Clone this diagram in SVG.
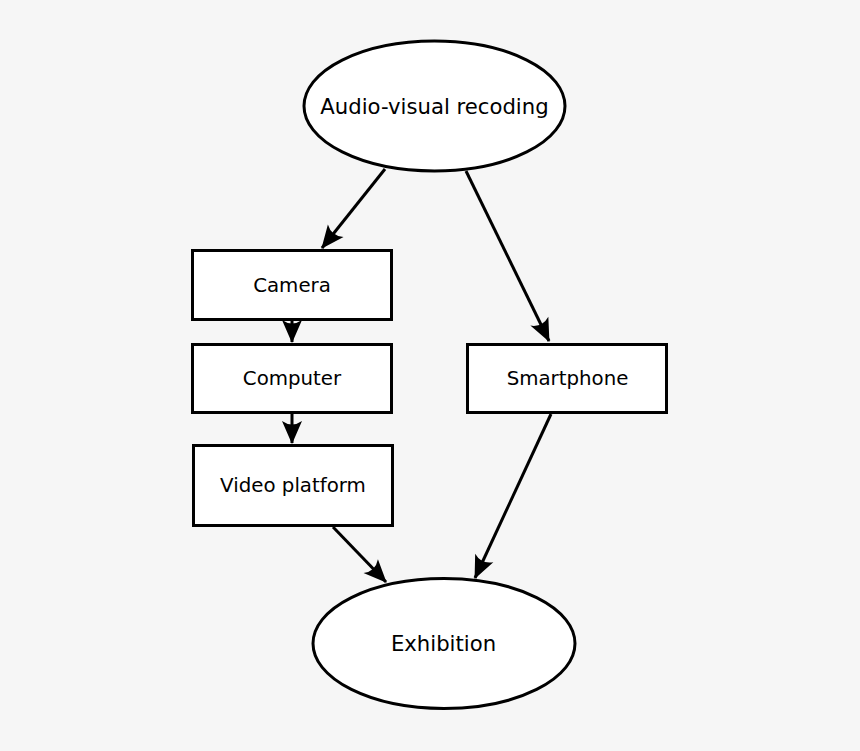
<svg xmlns="http://www.w3.org/2000/svg" width="860" height="751" viewBox="0 0 860 751">
<defs>
<style>
.n{fill:#fff;stroke:#000;stroke-width:3}
.t{font-family:"DejaVu Sans",sans-serif;font-size:19.8px;fill:#000;text-anchor:middle;dominant-baseline:central}
.e{font-size:21.2px}
.c{fill:none;stroke:#000;stroke-width:3;marker-end:url(#ah)}
</style>
<marker id="ah" markerUnits="userSpaceOnUse" viewBox="-24 -12 26 24" refX="0" refY="0" markerWidth="26" markerHeight="24" orient="auto" overflow="visible">
<path d="M1,0 L-22,-10 Q-15,0 -22,10 Z" fill="#000"/>
</marker>
</defs>
<rect width="860" height="751" fill="#f6f6f6"/>
<g id="connectors">
<line class="c" x1="385" y1="169" x2="322" y2="248"/>
<line class="c" x1="466" y1="171" x2="549" y2="341"/>
<line class="c" x1="292" y1="320" x2="292" y2="342"/>
<line class="c" x1="292" y1="414" x2="292" y2="443"/>
<line class="c" x1="333" y1="527" x2="386" y2="582"/>
<line class="c" x1="551" y1="414" x2="475" y2="578"/>
</g>
<g id="audio"><ellipse class="n" cx="434.5" cy="106" rx="130.5" ry="65"/><text class="t e" x="434.5" y="106">Audio-visual recoding</text></g>
<g id="camera"><rect class="n" x="192.5" y="250.5" width="199" height="69"/><text class="t" x="292" y="285">Camera</text></g>
<g id="computer"><rect class="n" x="192.5" y="344.5" width="199" height="68"/><text class="t" x="292" y="378">Computer</text></g>
<g id="video"><rect class="n" x="193.5" y="445.5" width="199" height="80"/><text class="t" x="293" y="485">Video platform</text></g>
<g id="smartphone"><rect class="n" x="467.5" y="344.5" width="199" height="68"/><text class="t" x="567.5" y="378">Smartphone</text></g>
<g id="exhibition"><ellipse class="n" cx="444" cy="643.5" rx="131" ry="65"/><text class="t e" x="443.5" y="643">Exhibition</text></g>
</svg>
